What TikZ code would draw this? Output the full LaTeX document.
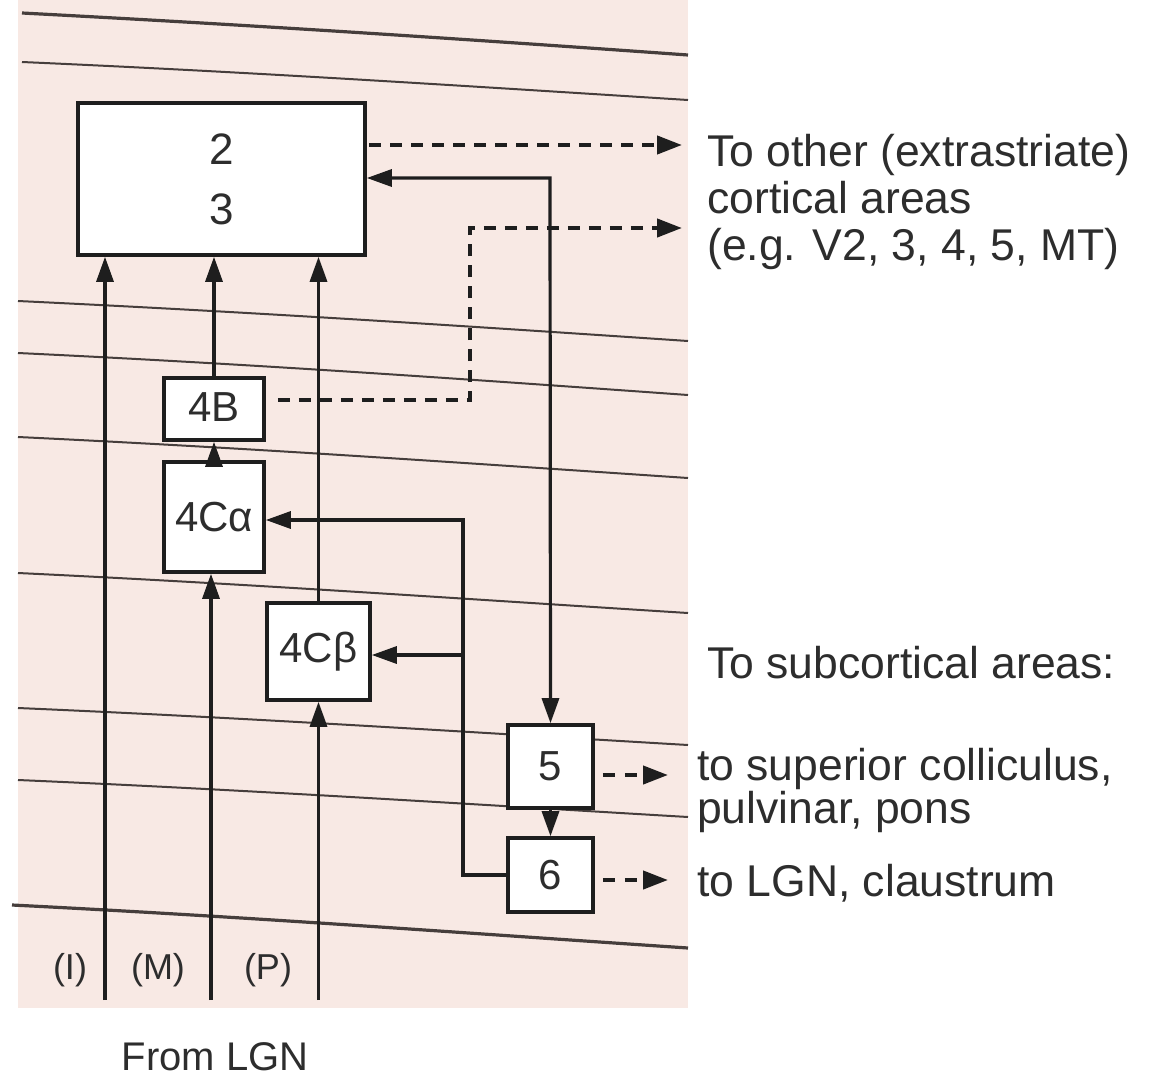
\documentclass[tikz,border=0pt]{standalone}
\usepackage{fontspec}
\setmainfont{Liberation Sans}
\usetikzlibrary{arrows.meta}
\definecolor{pinkbg}{RGB}{248,233,228}
\definecolor{ink}{RGB}{30,30,30}
\definecolor{txt}{RGB}{45,45,45}
\definecolor{layer}{RGB}{70,62,60}
\begin{document}
\begin{tikzpicture}[x=1pt,y=-1pt,
  box/.style={draw=ink,line width=3.6pt,fill=white,inner sep=0pt,text=txt,font=\fontsize{42}{44}\selectfont},
  tip/.style={},
  arr/.style={draw=ink,line width=3.2pt,-{Triangle[length=25pt,width=17pt]}},
  darr/.style={draw=ink,line width=4.2pt,dash pattern=on 12pt off 9pt,-{Triangle[length=25pt,width=18pt]}},
  lyr/.style={draw=layer,line width=2pt},
  lbl/.style={text=txt,font=\fontsize{44.5}{47}\selectfont,inner sep=0pt,anchor=base west},
  small/.style={text=txt,font=\fontsize{36}{38}\selectfont,inner sep=0pt}]
\useasboundingbox (0,0) rectangle (1149,1082);
\fill[pinkbg] (18,0) rectangle (688,1008);
% layer lines
\draw[lyr,line width=3.2pt] (22,13) .. controls (250,25) and (450,38) .. (688,55);
\draw[lyr] (22,62) .. controls (250,72) and (450,85) .. (688,100);
\draw[lyr] (18,301) .. controls (250,312) and (450,325) .. (688,341);
\draw[lyr] (18,353) .. controls (250,364) and (450,378) .. (688,395);
\draw[lyr] (18,437) .. controls (250,448) and (450,462) .. (688,478);
\draw[lyr] (18,573) .. controls (250,584) and (450,598) .. (688,613);
\draw[lyr] (18,708) .. controls (250,718) and (450,731) .. (688,745);
\draw[lyr] (18,780) .. controls (250,790) and (450,803) .. (688,817);
\draw[lyr,line width=3.2pt] (12,905) .. controls (250,917) and (450,932) .. (688,948);
% boxes
\node[box,minimum width=287pt,minimum height=152pt,align=center,
      font=\fontsize{44}{60}\selectfont] (L23) at (221.5,179) {2\\3};
\node[box,minimum width=100pt,minimum height=62pt] (B4B) at (214,409) {\raisebox{4pt}{4B}};
\node[box,minimum width=100pt,minimum height=110pt] (B4Ca) at (214,517) {4Cα};
\node[box,minimum width=103pt,minimum height=97pt] (B4Cb) at (318.5,651.5) {4Cβ};
\node[box,minimum width=85pt,minimum height=83pt] (B5) at (550.5,766.5) {5};
\node[box,minimum width=85pt,minimum height=74pt] (B6) at (550.5,875) {6};
% coordinates
\coordinate (cI) at (105,1000);
\coordinate (cM) at (211,1000);
\coordinate (cP) at (318.5,1000);
\coordinate (cTurn) at (550,178);
\coordinate (cJa) at (463,520);
\coordinate (cJb) at (463,655);
\coordinate (cD1s) at (365,145);
\coordinate (cD1e) at (682,145);
\coordinate (cD2a) at (470,400);
\coordinate (cD2b) at (470,228);
\coordinate (cD2e) at (682,228);
\coordinate (cD5e) at (668,775);
\coordinate (cD6e) at (668,880);
% connectors
\draw[arr] (cI) -- (cI |- L23.south);
\draw[arr] (cM) -- (cM |- B4Ca.south);
\draw[arr] (cP) -- (B4Cb.south);
\draw[arr] (B4Cb.north) -- (B4Cb.north |- L23.south);
\draw[arr] (B4Ca.north) -- (B4B.south);
\draw[arr] (B4B.north) -- (B4B.north |- L23.south);
\draw[arr,{Triangle[length=25pt,width=17pt]}-{Triangle[length=25pt,width=17pt]}]
  (L23.east |- cTurn) -- (cTurn) -- (B5.north);
\draw[arr] (B5.south) -- (B6.north);
\draw[arr] (B6.west) -| (cJa) -- (B4Ca.east |- cJa);
\draw[arr] (cJb) -- (B4Cb.east |- cJb);
\draw[darr,shorten <=4pt] (cD1s) -- (cD1e);
\draw[darr,shorten <=12pt] (B4B.east |- cD2a) -- (cD2a) -- (cD2b) -- (cD2e);
\draw[darr,shorten <=8pt,dash pattern=on 12pt off 10pt] (B5.east |- cD5e) -- (cD5e);
\draw[darr,shorten <=8pt,dash pattern=on 12pt off 10pt] (B6.east |- cD6e) -- (cD6e);
% labels
\node[lbl] (t1) at (707,166) {To other (extrastriate)};
\node[lbl] (t2) at (707,213) {cortical areas};
\node[lbl] (t3) at (707,260) {(e.g. V2, 3, 4, 5, MT)};
\node[lbl] (t4) at (707,678) {To subcortical areas:};
\node[lbl] (t5) at (697,780) {to superior colliculus,};
\node[lbl] (t6) at (697,823) {pulvinar, pons};
\node[lbl] (t7) at (697,896) {to LGN, claustrum};
\node[small] (lI) at (70,970) {(I)};
\node[small] (lM) at (158,970) {(M)};
\node[small] (lP) at (268,970) {(P)};
\node[small,font=\fontsize{40}{42}\selectfont] (lLGN) at (215,1057) {From LGN};
\end{tikzpicture}
\end{document}
